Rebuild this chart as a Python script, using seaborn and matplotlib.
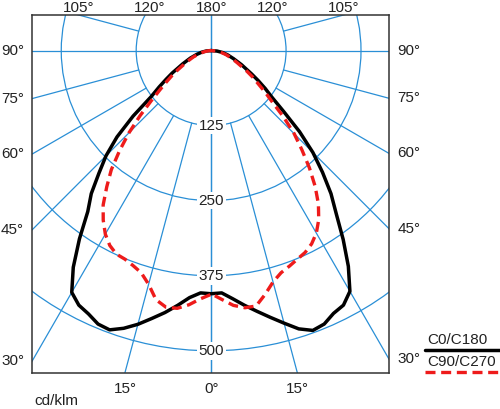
import numpy as np
import matplotlib
matplotlib.use("Agg")
import matplotlib.pyplot as plt
import seaborn as sns
from matplotlib.patches import Circle
from matplotlib.lines import Line2D

sns.set_style("white")
plt.rcParams["font.family"] = ["Liberation Sans", "DejaVu Sans"]

# gamma angle from nadir (deg) and luminous intensity (cd/klm)
angles = [0, 2.5, 5, 7.5, 10, 12.5, 15, 17.5, 20, 22.5, 25, 27.5, 30, 32.5, 35,
          37.5, 40, 42.5, 45, 47.5, 50, 52.5, 55, 57.5, 60, 65, 70, 75, 80, 85, 90]
c0_left = [405, 404, 413, 428, 443, 457, 472, 485, 495, 493, 484, 478, 465, 428, 383,
           338, 311, 277, 248, 213, 170, 126, 106, 89, 75, 52, 37, 25, 16, 8, 0]
c0_right = [405, 404, 415, 428, 441, 455, 470, 486, 496, 493, 483, 478, 463, 426, 384,
            343, 311, 275, 240, 200, 158, 128, 110, 93, 78, 56, 40, 29, 20, 10, 0]
c90_left = [406, 414, 425, 433, 434, 425, 403, 388, 381, 376, 374, 366, 353, 335, 314,
            286, 259, 226, 194, 161, 131, 108, 91, 77, 64, 45, 32, 21, 12, 5, 0]
c90_right = [405, 415, 426, 432, 432, 416, 399, 388, 382, 376, 371, 363, 351, 334, 312,
             285, 255, 224, 196, 164, 133, 113, 95, 82, 69, 48, 35, 25, 16, 7, 0]

rings = [125, 250, 375, 500]
side_angles = [30, 45, 60, 75, 90]
bottom_angles = [0, 15]
top_angles = [105, 120, 180]
legend_labels = ["C0/C180", "C90/C270"]
unit_label = "cd/klm"

grid_col = "#2a8fd6"
red = "#ee1b1b"
xmin, xmax = -298.3, 296.7
ymin, ymax = -536.5, 59.2


def to_xy(left, right):
    th = np.radians(np.r_[angles[::-1], angles])
    inten = np.r_[left[::-1], right]
    side = np.r_[-np.ones(len(angles)), np.ones(len(angles))]
    return side * inten * np.sin(th), -inten * np.cos(th)


fig = plt.figure(figsize=(5, 4.09), dpi=100)
ax = fig.add_axes([32.3 / 500, (409 - 372.7) / 409, 356.7 / 500, 357.7 / 409])

# polar grid
for r in rings:
    ax.add_patch(Circle((0, 0), r, fill=False, ec=grid_col, lw=0.9, zorder=1))
for a in range(0, 181, 15):
    r0 = 0 if a in (0, 90, 180) else 125
    t = np.radians(a)
    for s in (-1, 1):
        ax.plot([s * r0 * np.sin(t), s * 1500 * np.sin(t)],
                [-r0 * np.cos(t), -1500 * np.cos(t)], color=grid_col, lw=0.9, zorder=1)

for r in rings:
    ax.text(0, -r, str(r), ha="center", va="center", fontsize=11, color="#222222", zorder=3,
            bbox=dict(boxstyle="square,pad=0.12", fc="white", ec="none"))

# curves
x, y = to_xy(c0_left, c0_right)
sns.lineplot(x=x, y=y, sort=False, estimator=None, color="black", linewidth=2.5, ax=ax, zorder=4)
x, y = to_xy(c90_left, c90_right)
sns.lineplot(x=x, y=y, sort=False, estimator=None, color=red, linewidth=2.4, ax=ax, zorder=5)
ax.lines[-1].set_linestyle((0, (3, 1.7)))

ax.set_xlim(xmin, xmax)
ax.set_ylim(ymin, ymax)
ax.set_xticks([])
ax.set_yticks([])
ax.set_xlabel("")
ax.set_ylabel("")
for sp in ax.spines.values():
    sp.set_color("#333333")
    sp.set_linewidth(1.1)

# angle labels on the frame
lab = dict(fontsize=11, color="#222222", textcoords="offset points", annotation_clip=False)
for a in side_angles:
    t = np.radians(a)
    ax.annotate(f"{a}°", (xmin, xmin / np.tan(t)), xytext=(-6, 0), ha="right", va="center", **lab)
    ax.annotate(f"{a}°", (xmax, -xmax / np.tan(t)), xytext=(6, 0), ha="left", va="center", **lab)
for a in bottom_angles:
    t = np.radians(a)
    for s in ((1,) if a == 0 else (-1, 1)):
        ax.annotate(f"{a}°", (s * -ymin * np.tan(t), ymin), xytext=(0, -7), ha="center", va="top", **lab)
for a in top_angles:
    t = np.radians(a)
    for s in ((1,) if a == 180 else (-1, 1)):
        ax.annotate(f"{a}°", (s * ymax * np.tan(np.pi - t), ymax), xytext=(0, 2.5),
                    ha="center", va="baseline", **lab)

# legend and unit
fig.text(427 / 500, 1 - 340 / 409, legend_labels[0], ha="left", va="center", fontsize=11, color="#222222")
fig.add_artist(Line2D([425 / 500, 1.0], [1 - 349.5 / 409] * 2, color="black", lw=2.5))
fig.text(427 / 500, 1 - 362 / 409, legend_labels[1], ha="left", va="center", fontsize=11, color="#222222")
fig.add_artist(Line2D([425 / 500, 1.0], [1 - 371.5 / 409] * 2, color=red, lw=2.4,
                      linestyle=(0, (3, 1.7))))
fig.text(34 / 500, 1 - 405 / 409, unit_label, ha="left", va="baseline", fontsize=11, color="#222222")

fig.savefig("out.png", dpi=100)
